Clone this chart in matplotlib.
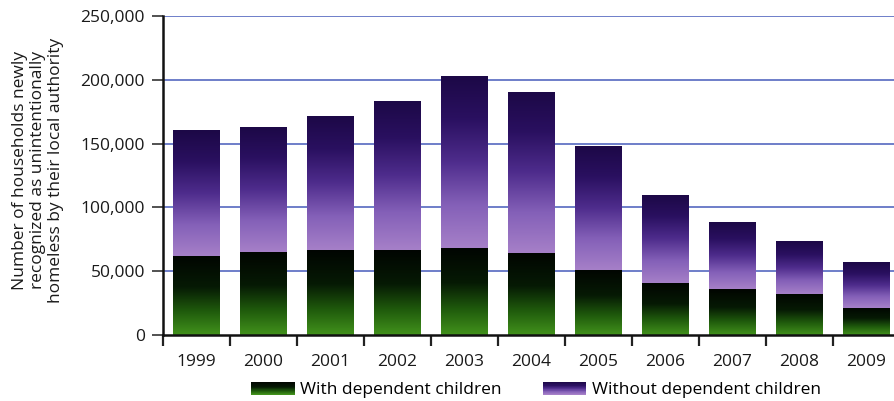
import numpy as np
import matplotlib
matplotlib.use("Agg")
import matplotlib.pyplot as plt
from matplotlib.colors import LinearSegmentedColormap
from matplotlib.patches import Rectangle
from matplotlib.legend_handler import HandlerBase

years = ["1999", "2000", "2001", "2002", "2003", "2004", "2005", "2006", "2007", "2008", "2009"]
with_children = [62000, 65000, 66500, 66500, 68000, 64000, 51000, 40500, 36000, 32500, 21500]
totals = [160500, 163000, 172000, 183500, 203000, 190500, 148500, 110000, 88500, 74000, 57000]
without_children = [t - w for t, w in zip(totals, with_children)]
yticks = [0, 50000, 100000, 150000, 200000, 250000]
ytick_labels = ["0", "50,000", "100,000", "150,000", "200,000", "250,000"]
legend_labels = ["With dependent children", "Without dependent children"]
ylabel = "Number of households newly\nrecognized as unintentionally\nhomeless by their local authority"

plt.rcParams['font.family'] = ['Open Sans', 'DejaVu Sans']

# colormaps: value 0 = bottom of segment, 1 = top
green_cmap = LinearSegmentedColormap.from_list(
    "g", [(0, "#42921c"), (0.3, "#1f5a0c"), (0.6, "#061a04"), (1, "#010501")])
purple_cmap = LinearSegmentedColormap.from_list(
    "p", [(0, "#a680c8"), (0.25, "#8460b8"), (0.5, "#4e2c8c"), (0.75, "#2a1060"), (1, "#1c0846")])

fig = plt.figure(figsize=(8.95, 4.01), dpi=100)
ax = fig.add_axes([163/895, 1-335/401, (900-163)/895, (335-16)/401])

x = np.arange(len(years))
width = 0.70
grad = np.linspace(0, 1, 256).reshape(-1, 1)

bars_g = ax.bar(x, with_children, width, facecolor='none', edgecolor='none', zorder=3)
bars_p = ax.bar(x, without_children, width, bottom=with_children, facecolor='none', edgecolor='none', zorder=3)

for bars, cmap, bottoms, heights in [(bars_g, green_cmap, [0]*len(x), with_children),
                                      (bars_p, purple_cmap, with_children, without_children)]:
    for b, bot, h in zip(bars, bottoms, heights):
        x0 = b.get_x()
        im = ax.imshow(grad, cmap=cmap, origin='lower', aspect='auto',
                       extent=[x0, x0 + b.get_width(), bot, bot + h], zorder=3,
                       interpolation='bilinear')
        im.set_clip_path(b)

ax.set_xlim(-0.5, len(years) - 0.5)
ax.set_ylim(0, 250000)

ax.set_yticks(yticks)
ax.set_yticklabels(ytick_labels, fontsize=12.5, color='#1a1a1a')
ax.tick_params(axis='y', length=8, width=1.2, color='#333333', pad=5, direction='out')

ax.set_xticks(np.arange(len(years) + 1) - 0.5)
ax.set_xticklabels([])
ax.tick_params(axis='x', which='major', length=8, width=1.6, color='#222222', direction='out')
ax.set_xticks(x, minor=True)
ax.set_xticklabels(years, minor=True, fontsize=12.5, color='#1a1a1a')
ax.tick_params(axis='x', which='minor', length=0, pad=14)

for yv in yticks[1:]:
    ax.axhline(yv, color='#5568c0', lw=1.2, zorder=1)

for s in ['top', 'right']:
    ax.spines[s].set_visible(False)
ax.spines['left'].set_linewidth(1.8)
ax.spines['bottom'].set_linewidth(1.8)
ax.spines['left'].set_color('#111111')
ax.spines['bottom'].set_color('#111111')
ax.spines['left'].set_zorder(5)
ax.spines['bottom'].set_zorder(5)

fig.text(38/895, 1-170/401, ylabel, rotation=90, ha='center', va='center',
         multialignment='center', fontsize=12.5, color='#1a1a1a', linespacing=1.2)


class GradHandler(HandlerBase):
    def __init__(self, cmap):
        super().__init__()
        self.cmap = cmap

    def create_artists(self, legend, orig_handle, xdescent, ydescent, width, height, fontsize, trans):
        n = 24
        arts = []
        for i in range(n):
            r = Rectangle((-xdescent, -ydescent + i * height / n), width, height / n + 0.05,
                          facecolor=self.cmap(i / (n - 1)), edgecolor='none', transform=trans)
            arts.append(r)
        return arts


h1 = Rectangle((0, 0), 1, 1)
h2 = Rectangle((0, 0), 1, 1)
fig.legend([h1, h2], legend_labels, loc='center', bbox_to_anchor=(536/895, 1-390/401),
           ncol=2, frameon=False, fontsize=12.5, handlelength=2.5, handleheight=0.8,
           handletextpad=0.3, columnspacing=2.4, borderpad=0, borderaxespad=0,
           handler_map={h1: GradHandler(green_cmap), h2: GradHandler(purple_cmap)})

fig.savefig("out.png", dpi=100)
